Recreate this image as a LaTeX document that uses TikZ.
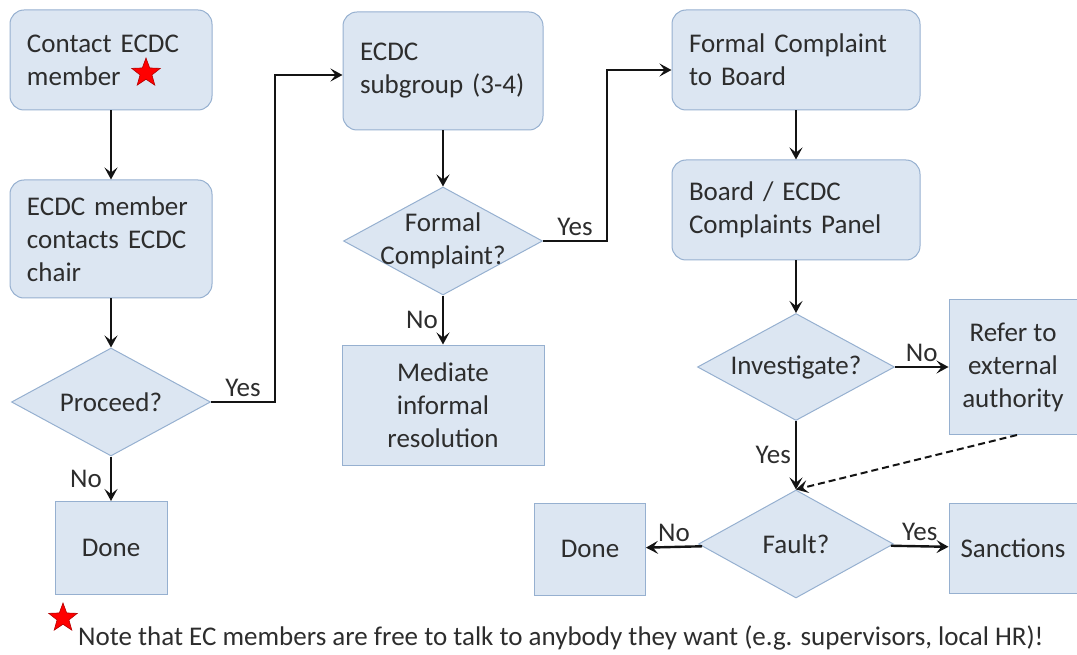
\documentclass[tikz,border=0pt]{standalone}
\usepackage{fontspec}
\setmainfont{Carlito}
\usetikzlibrary{shapes.geometric,arrows.meta}
\definecolor{boxfill}{RGB}{220,230,242}
\definecolor{boxline}{RGB}{150,176,208}
\definecolor{textgray}{RGB}{45,45,45}
\definecolor{arrowgray}{RGB}{20,20,20}

\begin{document}
\begin{tikzpicture}[x = 1pt, y = -1pt, >={Stealth[length=12pt,width=13pt,inset=5pt]},
  every node/.style = {font=\fontsize{27}{33}\selectfont, text=textgray},
  rbox/.style = {draw=boxline, fill=boxfill, line width=1pt, rounded corners=14pt, inner xsep=17pt, inner ysep=0pt, align=left},
  sbox/.style = {draw=boxline, fill=boxfill, line width=1pt, inner sep=0pt, align=center},
  decision/.style = {diamond, draw=boxline, fill=boxfill, line width=1pt, inner sep=0pt},
  flow/.style = {->, draw=arrowgray, line width=2.4pt},
  lbl/.style = {inner sep=4pt},
  redstar/.style = {star, star points=5, star point ratio=2.4, fill=red, draw=red!70!black, line width=0.6pt, inner sep=0pt, minimum size=30pt}]
\useasboundingbox (0,0) rectangle (1077,655);
\node[rbox, text width=168pt, minimum height=100pt] (contact) at (111,60) {Contact ECDC\\member};
\node[redstar] (star1) at (146,73) {};
\node[rbox, text width=168pt, minimum height=118pt] (chair) at (111,239) {ECDC member\\contacts ECDC\\chair};
\node[decision, minimum width=199pt, minimum height=108pt, label={center:Proceed?}] (proceed) at (111,402) {};
\node[sbox, minimum width=112pt, minimum height=93pt] (done1) at (111,548) {Done};
\node[rbox, text width=166pt, minimum height=118pt] (subgroup) at (443,71) {ECDC\\subgroup (3-4)};
\node[decision, minimum width=199pt, minimum height=108pt, label={[align=center]center:Formal\\Complaint?}] (formal) at (443,241) {};
\node[sbox, minimum width=202pt, minimum height=120pt] (mediate) at (443,405) {Mediate\\informal\\resolution};
\node[rbox, text width=214pt, minimum height=100pt] (board) at (796,60) {Formal Complaint\\to Board};
\node[rbox, text width=214pt, minimum height=100pt] (panel) at (796,210) {Board / ECDC\\Complaints Panel};
\node[decision, minimum width=197pt, minimum height=107pt, label={center:Investigate?}] (investigate) at (796,367) {};
\node[sbox, minimum width=128pt, minimum height=135pt] (refer) at (1013,367) {Refer to\\external\\authority};
\node[decision, minimum width=195pt, minimum height=108pt, label={center:Fault?}] (fault) at (796,544) {};
\node[sbox, minimum width=111pt, minimum height=92pt] (done2) at (590,549) {Done};
\node[sbox, minimum width=128pt, minimum height=90pt] (sanctions) at (1013,548) {Sanctions};
\node[redstar] (star2) at (63,618) {};
\node[anchor=base west, inner sep=0pt] (note) at (78,645) {Note that EC members are free to talk to anybody they want (e.g. supervisors, local HR)!};
\draw[flow] (contact) -- (chair);
\draw[flow] (chair) -- (proceed);
\draw[flow] (proceed) -- node[lbl, left, xshift=-4pt] {No} (done1);
\draw[flow] (proceed.east) -- node[lbl, above] {Yes} ++(64,0) |- ([yshift=-4pt]subgroup.west);
\draw[flow] (subgroup) -- (formal);
\draw[flow] (formal) -- node[lbl, left] {No} (mediate);
\draw[flow] (formal.east) -- node[lbl, above] {Yes} ++(64,0) |- ([yshift=-10pt]board.west);
\draw[flow] (board) -- (panel);
\draw[flow] (panel) -- (investigate);
\draw[flow] (investigate) -- node[lbl, above] {No} (refer);
\draw[flow] (investigate) -- node[lbl, left] {Yes} (fault);
\draw[flow, line width=2pt, dash pattern=on 7pt off 4pt] ([xshift=4pt]refer.south) -- (fault.north);
\draw[flow] (fault) -- node[lbl, above] {No} (done2);
\draw[flow] (fault) -- node[lbl, above] {Yes} (sanctions);
\end{tikzpicture}
\end{document}
